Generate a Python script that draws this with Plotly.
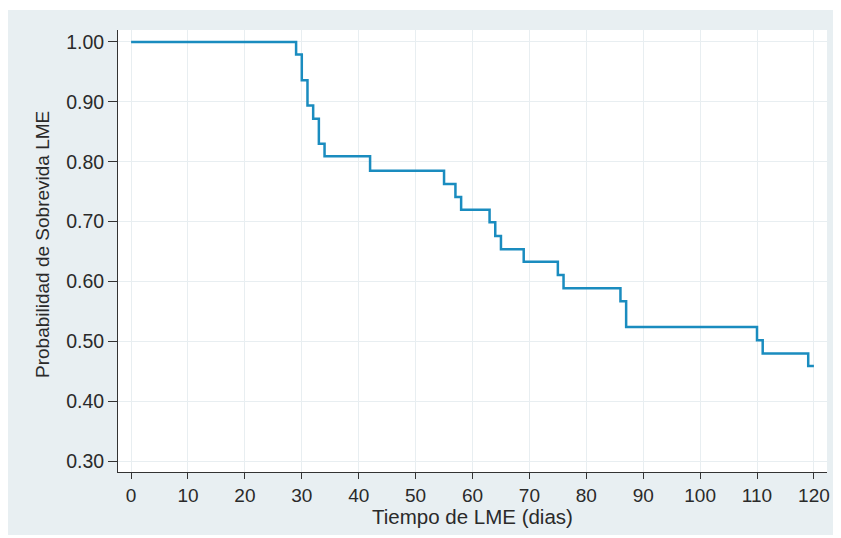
import plotly.graph_objects as go

# Kaplan-Meier step data
tiempo = [0, 29, 30, 31, 32, 33, 34, 42, 55, 57, 58, 63, 64, 65, 69, 75, 76, 86, 87, 110, 111, 119, 120]
sobrevida = [1.000, 0.979, 0.936, 0.894, 0.872, 0.830, 0.809, 0.785, 0.763, 0.741, 0.720,
             0.699, 0.676, 0.654, 0.633, 0.611, 0.589, 0.567, 0.524, 0.502, 0.480, 0.459, 0.459]

x_ticks = list(range(0, 121, 10))
y_ticks = [0.3, 0.4, 0.5, 0.6, 0.7, 0.8, 0.9, 1.0]
y_ticklabels = ["0.30", "0.40", "0.50", "0.60", "0.70", "0.80", "0.90", "1.00"]
x_title = "Tiempo de LME (dias)"
y_title = "Probabilidad de Sobrevida LME"

# page has an 8px body margin: figure origin sits at page (8, 8)
OFF = 8
W, H = 841 - OFF, 538 - OFF
# plot area in page pixels
PL, PR, PT, PB = 118, 827, 30, 472
ML, MR, MT, MB = PL - OFF, W - (PR - OFF), PT - OFF, H - (PB - OFF)
pw, ph = W - ML - MR, H - MT - MB

def px_to_paper_x(px):
    return (px - OFF - ML) / pw

def px_to_paper_y(py):
    return (H - MB - (py - OFF)) / ph

font_fam = "Liberation Sans, Arial, sans-serif"
txt = "#2a2a2a"
grid = "#e8eef1"
bg = "#e8eff2"

fig = go.Figure()
fig.add_trace(go.Scatter(
    x=tiempo, y=sobrevida, mode="lines", line_shape="hv",
    line=dict(color="#1a8cbf", width=2.5), showlegend=False, hoverinfo="x+y"))

fig.update_layout(
    width=W, height=H,
    margin=dict(l=ML, r=MR, t=MT, b=MB, autoexpand=False),
    paper_bgcolor="white", plot_bgcolor="white",
    font=dict(family=font_fam, color=txt, size=19),
    shapes=[
        dict(type="rect", xref="paper", yref="paper", layer="below",
             x0=px_to_paper_x(8), x1=px_to_paper_x(838),
             y0=px_to_paper_y(535), y1=px_to_paper_y(10),
             fillcolor=bg, line=dict(width=0)),
        dict(type="rect", xref="paper", yref="paper", layer="below",
             x0=0, x1=1, y0=0, y1=1, fillcolor="white", line=dict(width=0)),
    ],
    annotations=[
        dict(text=x_title, xref="paper", yref="paper", x=0.5, y=px_to_paper_y(503),
             xanchor="center", yanchor="top", showarrow=False,
             font=dict(size=20.5, color=txt)),
        dict(text=y_title, xref="paper", yref="paper", x=px_to_paper_x(42), y=px_to_paper_y(245),
             xanchor="center", yanchor="middle", showarrow=False, textangle=-90,
             font=dict(size=19, color=txt)),
    ],
)

fig.update_xaxes(
    range=[-2.3, 122.3], tickvals=x_ticks, ticks="outside", ticklen=6, tickcolor="#333",
    showline=True, linecolor="#333", linewidth=1, mirror=False,
    showgrid=True, gridcolor=grid, gridwidth=1, zeroline=False,
    tickfont=dict(size=19, color=txt),
)
fig.update_yaxes(
    range=[0.282, 1.02], tickvals=y_ticks, ticktext=y_ticklabels, ticks="outside", ticklen=9,
    tickcolor="#333", showline=True, linecolor="#333", linewidth=1, mirror=False,
    showgrid=True, gridcolor=grid, gridwidth=1, zeroline=False,
    tickfont=dict(size=19.5, color=txt),
)

fig.write_html("out.html")
